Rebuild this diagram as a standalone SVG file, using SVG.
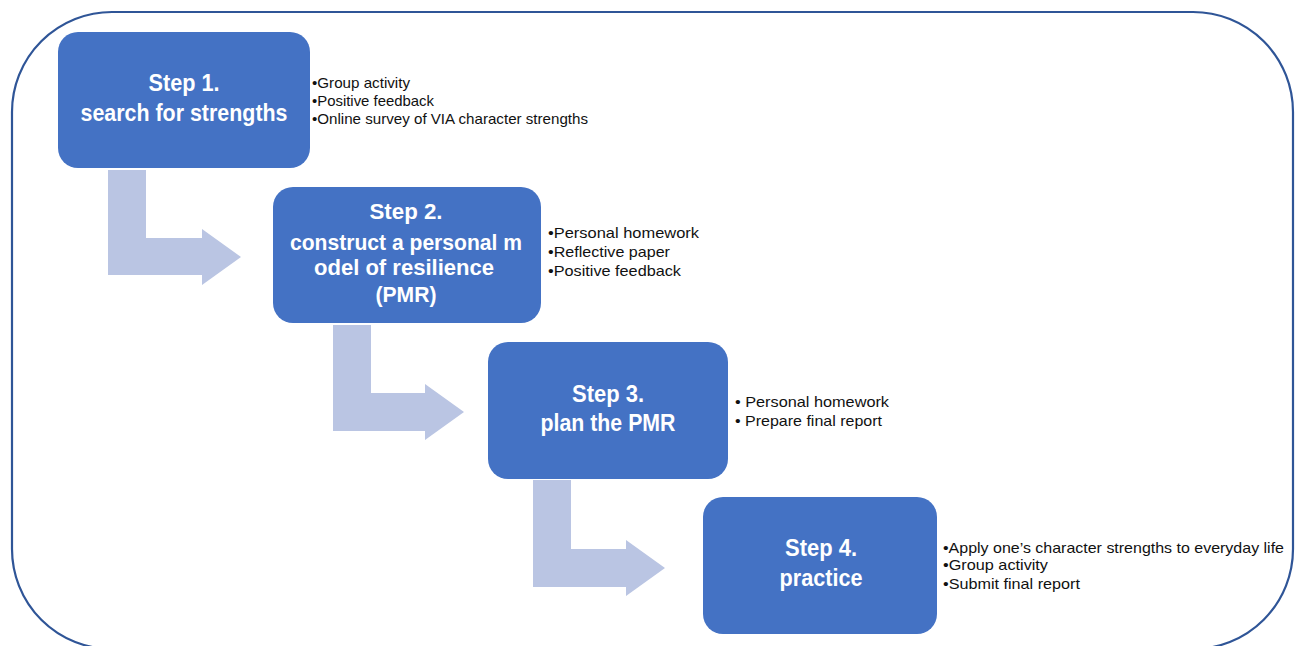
<svg xmlns="http://www.w3.org/2000/svg" width="1296" height="646" viewBox="0 0 1296 646">
<style>
.frame{fill:#fff;stroke:#2F5597;stroke-width:2.2}
.box{fill:#4472C4}
.arr{fill:#BAC5E3}
.t{font-family:"Liberation Sans",Arial,sans-serif;font-weight:bold;fill:#fff;text-anchor:middle}
.b{font-family:"Liberation Sans",Arial,sans-serif;fill:#111}
</style>
<rect width="1296" height="646" fill="#fff"/>
<rect class="frame" x="12" y="12" width="1281" height="637" rx="100" ry="100"/>
<g id="connectors">
<path class="arr" d="M108,170 H146 V238 H202 V229 L241,257 L202,285 V275 H108 Z"/>
<path class="arr" d="M333,325 H371 V393 H425 V384 L464,412 L425,440 V431 H333 Z"/>
<path class="arr" d="M533,480 H571 V549 H626 V540 L665,568 L626,596 V587 H533 Z"/>
</g>
<g id="step1">
<rect class="box" x="58" y="32" width="252" height="136" rx="20"/>
<text class="t" x="184" y="91" font-size="24" textLength="71" lengthAdjust="spacingAndGlyphs">Step 1.</text>
<text class="t" x="184" y="121" font-size="24" textLength="207" lengthAdjust="spacingAndGlyphs">search for strengths</text>
<text class="b" x="312" y="88" font-size="15" textLength="98" lengthAdjust="spacingAndGlyphs">•Group activity</text>
<text class="b" x="312" y="106" font-size="15" textLength="122" lengthAdjust="spacingAndGlyphs">•Positive feedback</text>
<text class="b" x="312" y="124" font-size="15" textLength="276" lengthAdjust="spacingAndGlyphs">•Online survey of VIA character strengths</text>
</g>
<g id="step2">
<rect class="box" x="273" y="187" width="268" height="136" rx="20"/>
<text class="t" x="406" y="219" font-size="22" textLength="73" lengthAdjust="spacingAndGlyphs">Step 2.</text>
<text class="t" x="406" y="250" font-size="22" textLength="232" lengthAdjust="spacingAndGlyphs">construct a personal m</text>
<text class="t" x="404" y="275" font-size="22" textLength="180" lengthAdjust="spacingAndGlyphs">odel of resilience</text>
<text class="t" x="406" y="302" font-size="22" textLength="61" lengthAdjust="spacingAndGlyphs">(PMR)</text>
<text class="b" x="548" y="238" font-size="15" textLength="151" lengthAdjust="spacingAndGlyphs">•Personal homework</text>
<text class="b" x="548" y="257" font-size="15" textLength="122" lengthAdjust="spacingAndGlyphs">•Reflective paper</text>
<text class="b" x="548" y="276" font-size="15" textLength="133" lengthAdjust="spacingAndGlyphs">•Positive feedback</text>
</g>
<g id="step3">
<rect class="box" x="488" y="342" width="240" height="137" rx="20"/>
<text class="t" x="608" y="402" font-size="24" textLength="72" lengthAdjust="spacingAndGlyphs">Step 3.</text>
<text class="t" x="608" y="431" font-size="24" textLength="135" lengthAdjust="spacingAndGlyphs">plan the PMR</text>
<text class="b" x="735" y="407" font-size="15" textLength="154" lengthAdjust="spacingAndGlyphs">• Personal homework</text>
<text class="b" x="735" y="426" font-size="15" textLength="147" lengthAdjust="spacingAndGlyphs">• Prepare final report</text>
</g>
<g id="step4">
<rect class="box" x="703" y="497" width="234" height="137" rx="20"/>
<text class="t" x="821" y="556" font-size="24" textLength="72" lengthAdjust="spacingAndGlyphs">Step 4.</text>
<text class="t" x="821" y="586" font-size="24" textLength="83" lengthAdjust="spacingAndGlyphs">practice</text>
<text class="b" x="943" y="553" font-size="15" textLength="341" lengthAdjust="spacingAndGlyphs">•Apply one’s character strengths to everyday life</text>
<text class="b" x="943" y="570" font-size="15" textLength="105" lengthAdjust="spacingAndGlyphs">•Group activity</text>
<text class="b" x="943" y="589" font-size="15" textLength="137" lengthAdjust="spacingAndGlyphs">•Submit final report</text>
</g>
</svg>
